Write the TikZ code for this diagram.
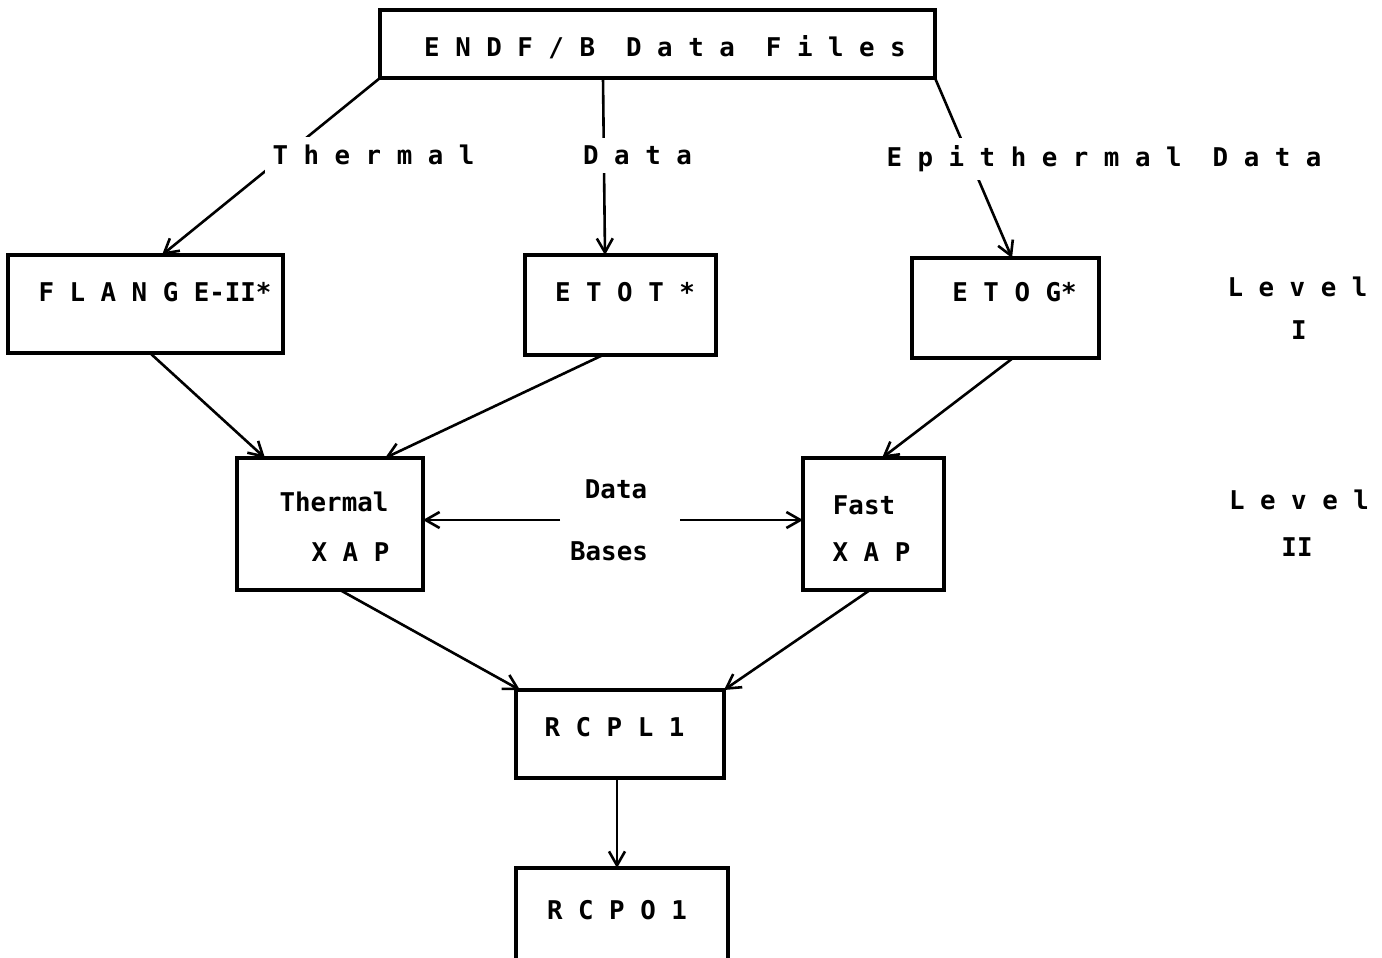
\documentclass[tikz,border=0pt]{standalone}
\usepackage{fontspec}
\newfontfamily\tw{DejaVu Sans Mono}[BoldFont={DejaVu Sans Mono Bold}]
\usetikzlibrary{arrows.meta,calc}
\tikzset{
  box/.style={draw, line width=1.6pt, inner sep=0pt, outer sep=0pt},
  conn/.style={line width=1.3pt},
  arr/.style={conn, -{Straight Barb[length=7pt,width=8pt,line width=1.3pt]}},
  txt/.style={font=\tw\bfseries\fontsize{12.9}{15}\selectfont, inner sep=0pt, anchor=base},
  lbl/.style={txt, fill=white, inner sep=4pt}
}
\begin{document}
\begin{tikzpicture}[x=0.5pt,y=-0.5pt]
\clip (0,0) rectangle (1382,958);
\fill[white] (0,0) rectangle (1382,958);
% boxes
\node[box, minimum width=277.5pt, minimum height=34pt] (endf) at (657.5,44) {};
\node[box, minimum width=137.5pt, minimum height=49pt] (flange) at (145.5,304) {};
\node[box, minimum width=95.5pt, minimum height=50pt] (etot) at (620.5,305) {};
\node[box, minimum width=93.5pt, minimum height=50pt] (etog) at (1005.5,308) {};
\node[box, minimum width=93pt, minimum height=66pt] (txap) at (330,524) {};
\node[box, minimum width=70.5pt, minimum height=66pt] (fxap) at (873.5,524) {};
\node[box, minimum width=104pt, minimum height=44pt] (rcpl) at (620,734) {};
\node[box, minimum width=106pt, minimum height=48.5pt] (rcpo) at (622,916.5) {};
% connectors
\draw[arr] (endf.south west) -- ($(flange.north)+(16.5,0)$);
\draw[arr] ($(endf.south)+(-54.5,0)$) -- ($(etot.north)+(-15.5,0)$);
\draw[arr] (endf.south east) -- ($(etog.north)+(6.5,0)$);
\draw[arr] ($(flange.south)+(4.5,0)$) -- ($(txap.north)+(-65,0)$);
\draw[arr] ($(etot.south)+(-17.5,0)$) -- ($(txap.north)+(55,0)$);
\draw[arr] ($(etog.south)+(7.5,0)$) -- ($(fxap.north)+(8.5,0)$);
\draw[arr] ($(txap.south)+(10,0)$) -- ($(rcpl.north)+(-100,0)$);
\draw[arr] ($(fxap.south)+(-3.5,0)$) -- (rcpl.north east);
\draw[arr] ($(rcpl.south)+(-3,0)$) -- ($(rcpo.north)+(-5,0)$);
\coordinate (dbl) at (560,520);
\coordinate (dbr) at (680,520);
\draw[arr] (dbl) -- ($(txap.east)+(0,-4)$);
\draw[arr] (dbr) -- ($(fxap.west)+(0,-4)$);
% labels on connectors
\node[lbl] (lthermal) at (373.5,164.5) {T h e r m a l};
\node[lbl] (ldata) at (637.5,164.5) {D a t a};
\node[lbl] (lepi) at (1104,166.5) {E p i t h e r m a l\ \ D a t a};
% box texts
\node[txt] (tendf) at (665,56.5) {E N D F / B\ \ D a t a\ \ F i l e s};
\node[txt] (tflange) at (155,301.5) {F L A N G E-II*};
\node[txt] (tetot) at (625,301.5) {E T O T *};
\node[txt] (tetog) at (1014.5,301.5) {E T O G*};
\node[txt] (ttx1) at (334,511.5) {Thermal};
\node[txt] (ttx2) at (350.5,561.5) {X A P};
\node[txt] (tfx1) at (864,514.5) {Fast};
\node[txt] (tfx2) at (871.5,561.5) {X A P};
\node[txt] (tdb1) at (616,498.5) {Data};
\node[txt] (tdb2) at (609,560.5) {Bases};
\node[txt] (trcpl) at (614.5,736.5) {R C P L 1};
\node[txt] (trcpo) at (617,919.5) {R C P O 1};
% level labels
\node[txt] (lev1) at (1297.5,296.5) {L e v e l};
\node[txt] (lev1n) at (1299,339.5) {I};
\node[txt] (lev2) at (1299,509.5) {L e v e l};
\node[txt] (lev2n) at (1297,556.5) {II};
\end{tikzpicture}
\end{document}
